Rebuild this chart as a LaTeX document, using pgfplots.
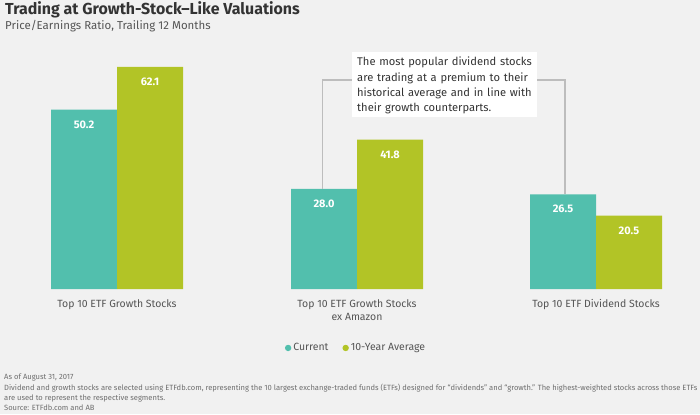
\documentclass[border=0pt]{standalone}
\usepackage{fontspec}
\setmainfont{Fira Sans}
\usepackage{pgfplots}
\pgfplotsset{compat=1.18}

\definecolor{bg}{HTML}{F1F1F1}
\definecolor{cur}{HTML}{52BFAD}
\definecolor{avg}{HTML}{B2C426}
\definecolor{txt}{HTML}{555555}
\definecolor{ttl}{HTML}{333333}
\definecolor{conn}{HTML}{BDBDBD}

\begin{document}
\begin{tikzpicture}[x=1bp,y=1bp]
\useasboundingbox[fill=bg] (0,0) rectangle (700,414);

% titles
\node[anchor=base west, inner sep=0, text=ttl, font=\fontsize{16}{19}\selectfont\bfseries] at (5,399) {Trading at Growth-Stock--Like Valuations};
\node[anchor=base west, inner sep=0, text=txt, font=\fontsize{11.5}{14}\selectfont] at (5,385) {Price/Earnings Ratio, Trailing 12 Months};

\begin{axis}[
  at={(0bp,125bp)}, anchor=south west,
  scale only axis, width=700bp, height=289bp,
  xmin=0, xmax=700, ymin=0, ymax=80.84,
  ybar, bar width=66bp,
  axis line style={draw=none}, tick style={draw=none},
  xtick={117,357,596},
  xticklabels={Top 10 ETF Growth Stocks, {Top 10 ETF Growth Stocks\\ex Amazon}, Top 10 ETF Dividend Stocks},
  xticklabel style={align=center, text=txt, font=\fontsize{10.5}{12.5}\selectfont, yshift=-3bp},
  ytick=\empty,
  /pgf/number format/.cd, fixed, fixed zerofill, precision=1, assume math mode=true,
  /pgfplots/.cd,
  nodes near coords,
  every node near coord/.append style={anchor=center, yshift=-15bp, text=white, font=\fontsize{11}{13}\selectfont\bfseries},
  legend style={at={(0.5086,-0.204)}, anchor=center, draw=none, fill=none, legend columns=2,
    font=\fontsize{10.5}{12.5}\selectfont, text=txt,
    /tikz/every even column/.style={column sep=12bp}},
  clip=false,
]
\addplot[fill=cur, draw=none, bar shift=-33bp,
  legend image code/.code={\fill[cur] (0bp,0bp) circle (3.2bp);}]
  coordinates {(117,50.2) (357,28.0) (596,26.5)};
\addplot[fill=avg, draw=none, bar shift=33bp,
  legend image code/.code={\fill[avg] (0bp,0bp) circle (3.2bp);}]
  coordinates {(117,62.1) (357,41.8) (596,20.5)};
\legend{Current, 10-Year Average}

\draw[conn, line width=1.2bp] (axis cs:322.5,28.0) |- (axis cs:352,58.46);
\draw[conn, line width=1.2bp] (axis cs:565,26.5) |- (axis cs:537,58.46);
\end{axis}

% annotation
\fill[white] (352,362) rectangle (537,297);
\node[anchor=north west, inner sep=0, text width=182bp, align=left, text=ttl,
  font=\fontsize{11.2}{15.3}\selectfont] at (357,357)
  {The most popular dividend stocks\\are trading at a premium to their\\historical average and in line with\\their growth counterparts.};

% footer
\begin{scope}[every node/.style={anchor=base west, inner sep=0, text=txt!85, font=\fontsize{7.6}{9}\selectfont}]
\node at (4,35) {As of August 31, 2017};
\node at (4,24) {Dividend and growth stocks are selected using ETFdb.com, representing the 10 largest exchange-traded funds (ETFs) designed for ``dividends'' and ``growth.'' The highest-weighted stocks across those ETFs};
\node at (4,14) {are used to represent the respective segments.};
\node at (4,4) {Source: ETFdb.com and AB};
\end{scope}
\end{tikzpicture}
\end{document}
